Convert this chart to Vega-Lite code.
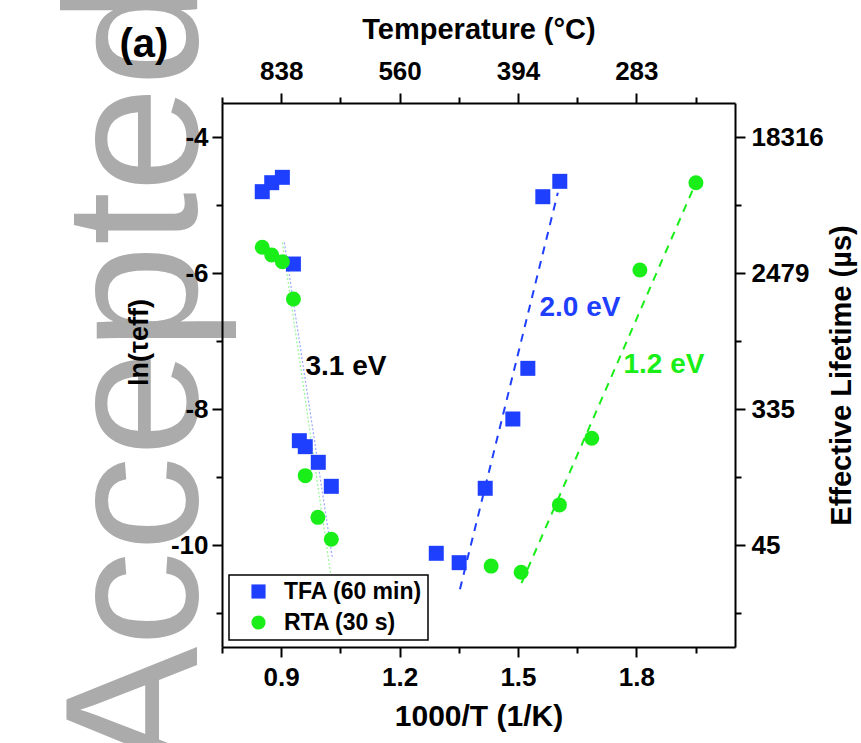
{
  "$schema": "https://vega.github.io/schema/vega-lite/v6.json",
  "width": 513,
  "height": 544,
  "autosize": "none",
  "padding": {"left": 222, "top": 103, "right": 126, "bottom": 96},
  "background": "white",
  "config": {
    "view": {"stroke": null},
    "font": "Liberation Sans",
    "axis": {
      "domainColor": "black", "domainWidth": 2,
      "tickColor": "black", "tickWidth": 2,
      "labelFont": "Liberation Sans", "labelFontWeight": "bold", "labelFontSize": 26, "labelColor": "black",
      "titleFont": "Liberation Sans", "titleFontWeight": "bold", "titleColor": "black",
      "grid": false, "labelOverlap": false, "labelFlush": false
    },
    "legend": {
      "labelFont": "Liberation Sans", "labelFontWeight": "bold", "labelFontSize": 23, "labelColor": "black",
      "strokeColor": "black", "strokeWidth": 1.5, "fillColor": "white", "padding": 5,
      "rowPadding": 7, "symbolSize": 200, "symbolOffset": 13, "labelOffset": 14,
      "symbolStrokeWidth": 0, "orient": "bottom-left", "offset": 7
    }
  },
  "datasets": {
    "pts": [
      {"series": "TFA (60 min)", "x": 0.852, "y": -4.804},
      {"series": "TFA (60 min)", "x": 0.876, "y": -4.672},
      {"series": "TFA (60 min)", "x": 0.903, "y": -4.593},
      {"series": "TFA (60 min)", "x": 0.931, "y": -5.868},
      {"series": "TFA (60 min)", "x": 0.946, "y": -8.466},
      {"series": "TFA (60 min)", "x": 0.961, "y": -8.554},
      {"series": "TFA (60 min)", "x": 0.994, "y": -8.784},
      {"series": "TFA (60 min)", "x": 1.027, "y": -9.137},
      {"series": "TFA (60 min)", "x": 1.293, "y": -10.122},
      {"series": "TFA (60 min)", "x": 1.351, "y": -10.26},
      {"series": "TFA (60 min)", "x": 1.417, "y": -9.166},
      {"series": "TFA (60 min)", "x": 1.487, "y": -8.147},
      {"series": "TFA (60 min)", "x": 1.525, "y": -7.402},
      {"series": "TFA (60 min)", "x": 1.563, "y": -4.878},
      {"series": "TFA (60 min)", "x": 1.606, "y": -4.652},
      {"series": "RTA (30 s)", "x": 0.852, "y": -5.622},
      {"series": "RTA (30 s)", "x": 0.876, "y": -5.735},
      {"series": "RTA (30 s)", "x": 0.903, "y": -5.834},
      {"series": "RTA (30 s)", "x": 0.931, "y": -6.382},
      {"series": "RTA (30 s)", "x": 0.961, "y": -8.98},
      {"series": "RTA (30 s)", "x": 0.993, "y": -9.593},
      {"series": "RTA (30 s)", "x": 1.027, "y": -9.916},
      {"series": "RTA (30 s)", "x": 1.432, "y": -10.31},
      {"series": "RTA (30 s)", "x": 1.508, "y": -10.4},
      {"series": "RTA (30 s)", "x": 1.605, "y": -9.41},
      {"series": "RTA (30 s)", "x": 1.687, "y": -8.43},
      {"series": "RTA (30 s)", "x": 1.809, "y": -5.956},
      {"series": "RTA (30 s)", "x": 1.951, "y": -4.672}
    ],
    "dashed": [
      {"line": "TFA", "x": 1.353, "y": -10.65},
      {"line": "TFA", "x": 1.601, "y": -4.82},
      {"line": "RTA", "x": 1.509, "y": -10.56},
      {"line": "RTA", "x": 1.951, "y": -4.67}
    ],
    "dotted": [
      {"line": "TFA", "x": 0.908, "y": -5.55},
      {"line": "TFA", "x": 1.03, "y": -10.2},
      {"line": "RTA", "x": 0.903, "y": -5.55},
      {"line": "RTA", "x": 1.026, "y": -10.45}
    ],
    "labels": [
      {"line": "both", "text": "3.1 eV", "x": 1.064, "y": -7.38},
      {"line": "TFA", "text": "2.0 eV", "x": 1.657, "y": -6.51},
      {"line": "RTA", "text": "1.2 eV", "x": 1.87, "y": -7.35}
    ],
    "mark": [
      {"text": "Accepted", "x": 0.687, "y": -7.53}
    ],
    "panel": [
      {"text": "(a)", "x": 0.5523, "y": -2.647}
    ]
  },
  "encoding": {
    "x": {"field": "x", "type": "quantitative", "scale": {"domain": [0.75, 2.05], "nice": false, "zero": false}, "axis": null},
    "y": {"field": "y", "type": "quantitative", "scale": {"domain": [-11.5, -3.5], "nice": false, "zero": false}, "axis": null}
  },
  "layer": [
    {
      "data": {"name": "mark"},
      "mark": {"type": "text", "angle": 270, "align": "center", "baseline": "alphabetic", "font": "Liberation Sans", "fontWeight": "normal", "fontSize": 190, "color": "#ABABAB", "clip": false},
      "encoding": {"text": {"field": "text"}}
    },
    {
      "data": {"name": "pts"},
      "mark": {"type": "point", "opacity": 0},
      "encoding": {
        "x": {"field": "x", "type": "quantitative", "scale": {"domain": [0.75, 2.05], "nice": false, "zero": false},
          "axis": {"orient": "bottom", "zindex": 1, "values": [0.75, 0.9, 1.05, 1.2, 1.35, 1.5, 1.65, 1.8, 1.95],
            "labelExpr": "abs(datum.value*10 - round(datum.value*10)) < 0.01 ? format(datum.value, '.1f') : ''",
            "tickSize": {"condition": {"test": "abs(datum.value*10 - round(datum.value*10)) < 0.01", "value": 10}, "value": 6},
            "labelPadding": 7, "title": "1000/T (1/K)", "titleFontSize": 30, "titlePadding": 11}},
        "y": {"field": "y", "type": "quantitative", "scale": {"domain": [-11.5, -3.5], "nice": false, "zero": false},
          "axis": {"orient": "left", "zindex": 1, "values": [-11, -10, -9, -8, -7, -6, -5, -4],
            "labelExpr": "datum.value % 2 == 0 ? '' + datum.value : ''",
            "tickSize": {"condition": {"test": "datum.value % 2 == 0", "value": 10}, "value": 6},
            "labelPadding": 4, "title": "ln(τeff)", "titleFontSize": 27, "titlePadding": 17, "titleY": 239}}
      }
    },
    {
      "data": {"name": "pts"},
      "mark": {"type": "point", "opacity": 0},
      "encoding": {
        "x": {"field": "x", "type": "quantitative", "scale": {"domain": [0.75, 2.05], "nice": false, "zero": false},
          "axis": {"orient": "top", "zindex": 1, "values": [0.75, 0.9, 1.05, 1.2, 1.35, 1.5, 1.65, 1.8, 1.95],
            "labelExpr": "abs(datum.value*10 - round(datum.value*10)) < 0.01 ? '' + round(1000/datum.value - 273) : ''",
            "tickSize": {"condition": {"test": "abs(datum.value*10 - round(datum.value*10)) < 0.01", "value": 10}, "value": 6},
            "labelPadding": 9, "title": "Temperature (°C)", "titleFontSize": 29, "titlePadding": 14}},
        "y": {"field": "y", "type": "quantitative", "scale": {"domain": [-11.5, -3.5], "nice": false, "zero": false},
          "axis": {"orient": "right", "zindex": 1, "values": [-11, -10, -9, -8, -7, -6, -5, -4],
            "labelExpr": "datum.value % 2 == 0 ? '' + round(exp(datum.value)*1000000) : ''",
            "tickSize": {"condition": {"test": "datum.value % 2 == 0", "value": 10}, "value": 6},
            "labelPadding": 6, "title": "Effective Lifetime (µs)", "titleFontSize": 29, "titleAngle": 270, "titleBaseline": "top", "titlePadding": 4}}
      }
    },
    {
      "data": {"name": "dotted"},
      "mark": {"type": "line", "strokeWidth": 1.2, "strokeDash": [2, 2], "opacity": 0.45},
      "encoding": {
        "detail": {"field": "line"},
        "color": {"condition": {"test": "datum.line == 'TFA'", "value": "#1F3FFF"}, "value": "#19EE19"}
      }
    },
    {
      "data": {"name": "dashed"},
      "mark": {"type": "line", "strokeWidth": 2, "strokeDash": [8, 7]},
      "encoding": {
        "detail": {"field": "line"},
        "color": {"condition": {"test": "datum.line == 'TFA'", "value": "#1F3FFF"}, "value": "#19EE19"}
      }
    },
    {
      "data": {"name": "pts"},
      "mark": {"type": "point", "filled": true, "opacity": 1, "size": 225, "strokeWidth": 0},
      "encoding": {
        "color": {"field": "series", "type": "nominal", "scale": {"domain": ["TFA (60 min)", "RTA (30 s)"], "range": ["#1F3FFF", "#19EE19"]}, "legend": {"title": null}},
        "shape": {"field": "series", "type": "nominal", "scale": {"domain": ["TFA (60 min)", "RTA (30 s)"], "range": ["square", "circle"]}, "legend": {"title": null}}
      }
    },
    {
      "data": {"name": "labels"},
      "mark": {"type": "text", "fontSize": 28, "fontWeight": "bold", "align": "center", "baseline": "middle"},
      "encoding": {
        "text": {"field": "text"},
        "color": {"condition": [{"test": "datum.line == 'TFA'", "value": "#1F3FFF"}, {"test": "datum.line == 'RTA'", "value": "#19EE19"}], "value": "black"}
      }
    },
    {
      "data": {"name": "panel"},
      "mark": {"type": "text", "fontSize": 40, "fontWeight": "bold", "align": "center", "baseline": "middle", "color": "black", "clip": false},
      "encoding": {"text": {"field": "text"}}
    }
  ],
  "resolve": {"axis": {"x": "independent", "y": "independent"}}
}
